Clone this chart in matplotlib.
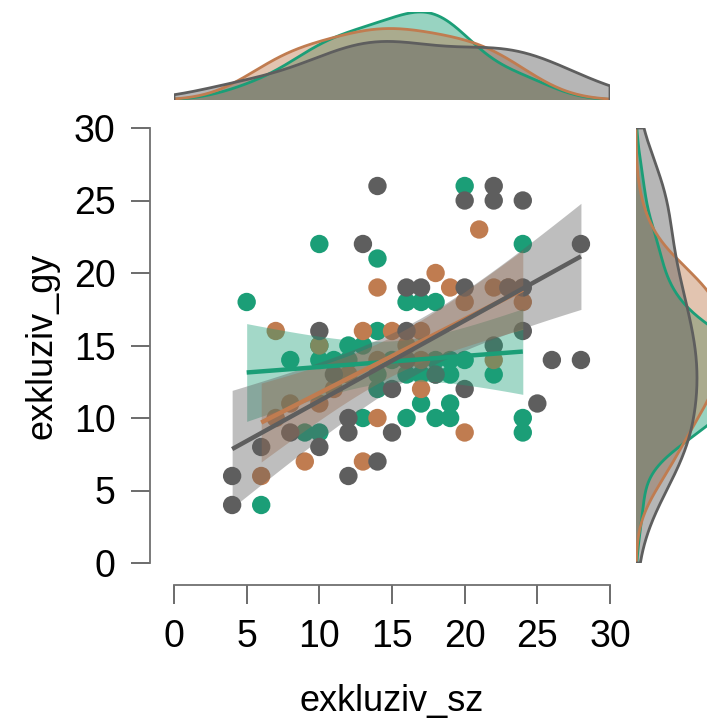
import numpy as np
import matplotlib
matplotlib.use("Agg")
import matplotlib.pyplot as plt

plt.rcParams['font.family'] = ['Liberation Sans', 'DejaVu Sans']

# ---- data ----
green_x = [5, 6, 8, 9, 10, 10, 10, 10, 11, 12, 12, 13, 13, 14, 14, 14, 14, 15, 16, 16, 16, 17, 17, 17,
           18, 18, 18, 18, 19, 19, 19, 19, 20, 20, 22, 24, 24, 24]
green_y = [18, 4, 14, 9, 9, 14, 15, 22, 14, 15, 14, 10, 15, 21, 16, 13, 12, 14, 18, 13, 10, 18, 13, 11,
           18, 13, 10, 14, 14, 13, 11, 10, 26, 14, 13, 22, 10, 9]

brown_x = [6, 7, 7, 8, 9, 10, 10, 11, 12, 13, 13, 14, 14, 14, 15, 16, 17, 17, 17, 18, 19, 20, 20, 21,
           22, 22, 23, 24]
brown_y = [6, 10, 16, 11, 7, 11, 15, 12, 13, 7, 16, 10, 14, 19, 16, 15, 12, 16, 14, 20, 19, 9, 18, 23,
           19, 14, 19, 18]

gray_x = [4, 4, 6, 8, 10, 10, 11, 12, 12, 12, 13, 14, 14, 15, 15, 16, 16, 16, 17, 18, 20, 20, 20, 22,
          22, 22, 23, 24, 24, 24, 25, 26, 28, 28]
gray_y = [4, 6, 8, 9, 8, 16, 13, 6, 9, 10, 22, 7, 26, 9, 12, 16, 19, 14, 19, 13, 12, 19, 25, 26,
          25, 15, 19, 25, 19, 16, 11, 14, 14, 22]

groups = [
    (green_x, green_y, '#1b9e77'),
    (brown_x, brown_y, '#c07c50'),
    (gray_x, gray_y, '#5e5e5e'),
]
ticks = [0, 5, 10, 15, 20, 25, 30]
x_label = 'exkluziv_sz'
y_label = 'exkluziv_gy'

W, H = 707, 725
fig = plt.figure(figsize=(W / 100, H / 100), dpi=100)


def fx(px):
    return px / W


def fy(py):
    return 1 - py / H


L, R, T, B = 174, 610, 128, 563
ax = fig.add_axes([fx(L), fy(B), fx(R) - fx(L), fy(T) - fy(B)])
ax_top = fig.add_axes([fx(L), fy(100), fx(R) - fx(L), fy(12) - fy(100)])
ax_right = fig.add_axes([fx(636), fy(B), fx(724) - fx(636), fy(T) - fy(B)])


def tq(df):
    z = 1.959964
    return z + (z**3 + z) / (4 * df) + (5 * z**5 + 16 * z**3 + 3 * z) / (96 * df**2)


def kde(v, grid):
    v = np.asarray(v, float)
    n = len(v)
    bw = 1.0 * v.std(ddof=1) * n ** -0.2
    d = np.exp(-0.5 * ((grid[:, None] - v[None, :]) / bw) ** 2).sum(1)
    return d / (n * bw * np.sqrt(2 * np.pi))


# scatter points
for xs, ys, c in groups:
    ax.scatter(xs, ys, s=175, color=c, edgecolors='none', zorder=2)

# regression lines with 95% bands
for xs, ys, c in groups:
    x = np.asarray(xs, float)
    y = np.asarray(ys, float)
    n = len(x)
    b1, b0 = np.polyfit(x, y, 1)
    res = y - (b0 + b1 * x)
    s = np.sqrt((res ** 2).sum() / (n - 2))
    g = np.linspace(x.min(), x.max(), 100)
    fit = b0 + b1 * g
    se = s * np.sqrt(1 / n + (g - x.mean()) ** 2 / ((x - x.mean()) ** 2).sum())
    t = tq(n - 2)
    ax.fill_between(g, fit - t * se, fit + t * se, color=c, alpha=0.4, linewidth=0, zorder=3)
    ax.plot(g, fit, color=c, lw=3.2, zorder=4, solid_capstyle='butt')

ax.set_xlim(0, 30)
ax.set_ylim(0, 30)
ax.set_xticks(ticks)
ax.set_yticks(ticks)
for sp in ['top', 'right']:
    ax.spines[sp].set_visible(False)
ax.spines['left'].set_position(('outward', 17.5))
ax.spines['bottom'].set_position(('outward', 15.5))
ax.spines['left'].set_bounds(0, 30)
ax.spines['bottom'].set_bounds(0, 30)
for sp in ['left', 'bottom']:
    ax.spines[sp].set_color('#707070')
    ax.spines[sp].set_linewidth(1.3)
ax.tick_params(axis='both', length=13.5, width=1.3, color='#606060', labelsize=27, labelcolor='black')
ax.tick_params(axis='x', pad=11)
ax.tick_params(axis='y', pad=11)
ax.set_xlabel(x_label, fontsize=26)
ax.set_ylabel(y_label, fontsize=26)
ax.xaxis.set_label_coords(0.5, -(684 - B) / (B - T))
ax.yaxis.set_label_coords(-(174 - 59) / (R - L), 0.5)

# marginal densities
grid = np.linspace(0, 30, 300)
tops = []
rights = []
for xs, ys, c in groups:
    dx = kde(xs, grid)
    dy = kde(ys, grid)
    tops.append(dx.max())
    rights.append(dy.max())
    px = np.concatenate([[0], grid, [30]])
    ax_top.fill(px, np.concatenate([[0], dx, [0]]), facecolor=c, alpha=0.45, edgecolor='none')
    ax_top.plot(px, np.concatenate([[0], dx, [0]]), color=c, lw=2)
    ax_right.fill(np.concatenate([[0], dy, [0]]), px, facecolor=c, alpha=0.45, edgecolor='none')
    ax_right.plot(np.concatenate([[0], dy, [0]]), px, color=c, lw=2)

ax_top.set_xlim(0, 30)
ax_top.set_ylim(0, max(tops))
ax_right.set_ylim(0, 30)
ax_right.set_xlim(0, rights[2] * 88 / 61)
for a in (ax_top, ax_right):
    a.axis('off')

fig.savefig('out.png', dpi=100)
